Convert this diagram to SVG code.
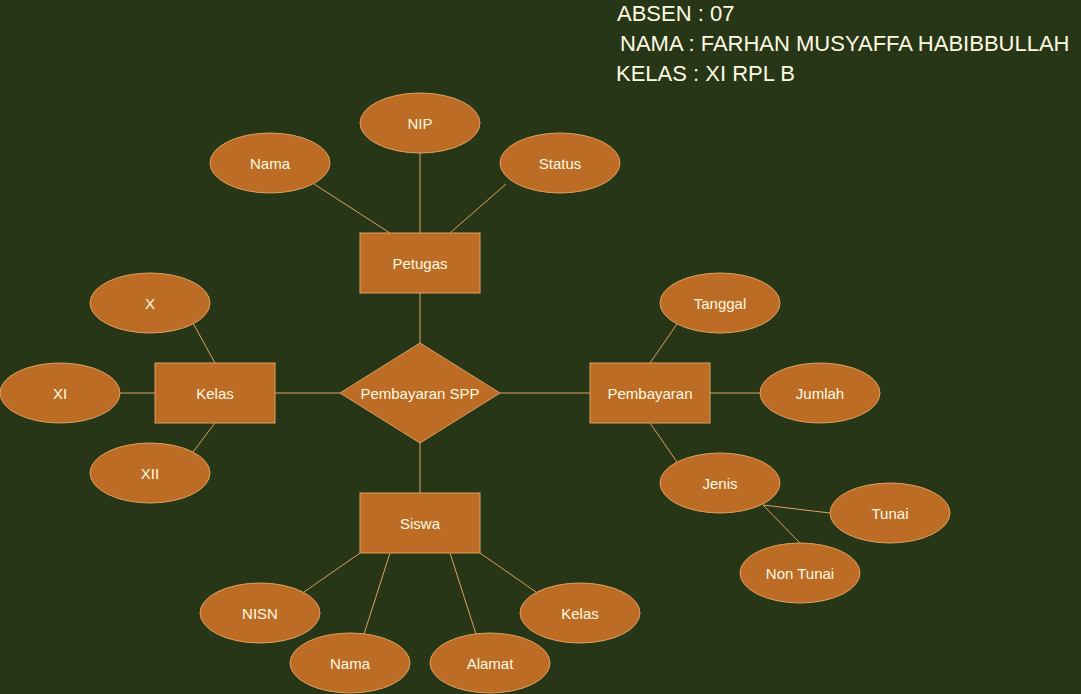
<svg xmlns="http://www.w3.org/2000/svg" width="1081" height="694" viewBox="0 0 1081 694">
<style>
.s{fill:#BC6C25;stroke:#DDA15E;stroke-width:1}
.t{font-family:"Liberation Sans",Arial,sans-serif;font-size:15px;fill:#FEFAE0;text-anchor:middle;dominant-baseline:central}
.h{font-family:"Liberation Sans",Arial,sans-serif;font-size:22px;fill:#FEFAE0}
.c line{stroke:#DDA15E;stroke-width:1}
</style>
<rect width="1081" height="694" fill="#283618"/>
<g id="header">
<text class="h" x="617" y="21">ABSEN : 07</text>
<text class="h" x="620" y="51">NAMA : FARHAN MUSYAFFA HABIBBULLAH</text>
<text class="h" x="616" y="81">KELAS : XI RPL B</text>
</g>
<g class="c" id="connectors">
<line x1="420" y1="153" x2="420" y2="233"/>
<line x1="314" y1="184" x2="390" y2="233"/>
<line x1="506" y1="184" x2="450" y2="233"/>
<line x1="420" y1="293" x2="420" y2="343"/>
<line x1="193" y1="323" x2="215" y2="363"/>
<line x1="120" y1="393" x2="155" y2="393"/>
<line x1="193" y1="452" x2="215" y2="423"/>
<line x1="275" y1="393" x2="340" y2="393"/>
<line x1="500" y1="393" x2="590" y2="393"/>
<line x1="650" y1="363" x2="677" y2="324"/>
<line x1="710" y1="393" x2="760" y2="393"/>
<line x1="650" y1="423" x2="677" y2="462"/>
<line x1="763" y1="505" x2="830" y2="513"/>
<line x1="763" y1="505" x2="800" y2="543"/>
<line x1="420" y1="443" x2="420" y2="493"/>
<line x1="360" y1="553" x2="304" y2="592"/>
<line x1="390" y1="553" x2="364" y2="634"/>
<line x1="450" y1="553" x2="476" y2="634"/>
<line x1="480" y1="553" x2="536" y2="592"/>
</g>
<g id="petugas"><rect class="s" x="360" y="233" width="120" height="60"/><text class="t" x="420" y="263">Petugas</text></g>
<g id="nip"><ellipse class="s" cx="420" cy="123" rx="60" ry="30"/><text class="t" x="420" y="123">NIP</text></g>
<g id="nama-petugas"><ellipse class="s" cx="270" cy="163" rx="60" ry="30"/><text class="t" x="270" y="163">Nama</text></g>
<g id="status"><ellipse class="s" cx="560" cy="163" rx="60" ry="30"/><text class="t" x="560" y="163">Status</text></g>
<g id="pembayaran-spp"><polygon class="s" points="420,343 500,393 420,443 340,393"/><text class="t" x="420" y="393">Pembayaran SPP</text></g>
<g id="kelas"><rect class="s" x="155" y="363" width="120" height="60"/><text class="t" x="215" y="393">Kelas</text></g>
<g id="x"><ellipse class="s" cx="150" cy="303" rx="60" ry="30"/><text class="t" x="150" y="303">X</text></g>
<g id="xi"><ellipse class="s" cx="60" cy="393" rx="60" ry="30"/><text class="t" x="60" y="393">XI</text></g>
<g id="xii"><ellipse class="s" cx="150" cy="473" rx="60" ry="30"/><text class="t" x="150" y="473">XII</text></g>
<g id="pembayaran"><rect class="s" x="590" y="363" width="120" height="60"/><text class="t" x="650" y="393">Pembayaran</text></g>
<g id="tanggal"><ellipse class="s" cx="720" cy="303" rx="60" ry="30"/><text class="t" x="720" y="303">Tanggal</text></g>
<g id="jumlah"><ellipse class="s" cx="820" cy="393" rx="60" ry="30"/><text class="t" x="820" y="393">Jumlah</text></g>
<g id="jenis"><ellipse class="s" cx="720" cy="483" rx="60" ry="30"/><text class="t" x="720" y="483">Jenis</text></g>
<g id="tunai"><ellipse class="s" cx="890" cy="513" rx="60" ry="30"/><text class="t" x="890" y="513">Tunai</text></g>
<g id="non-tunai"><ellipse class="s" cx="800" cy="573" rx="60" ry="30"/><text class="t" x="800" y="573">Non Tunai</text></g>
<g id="siswa"><rect class="s" x="360" y="493" width="120" height="60"/><text class="t" x="420" y="523">Siswa</text></g>
<g id="nisn"><ellipse class="s" cx="260" cy="613" rx="60" ry="30"/><text class="t" x="260" y="613">NISN</text></g>
<g id="nama-siswa"><ellipse class="s" cx="350" cy="663" rx="60" ry="30"/><text class="t" x="350" y="663">Nama</text></g>
<g id="alamat"><ellipse class="s" cx="490" cy="663" rx="60" ry="30"/><text class="t" x="490" y="663">Alamat</text></g>
<g id="kelas-siswa"><ellipse class="s" cx="580" cy="613" rx="60" ry="30"/><text class="t" x="580" y="613">Kelas</text></g>
</svg>
